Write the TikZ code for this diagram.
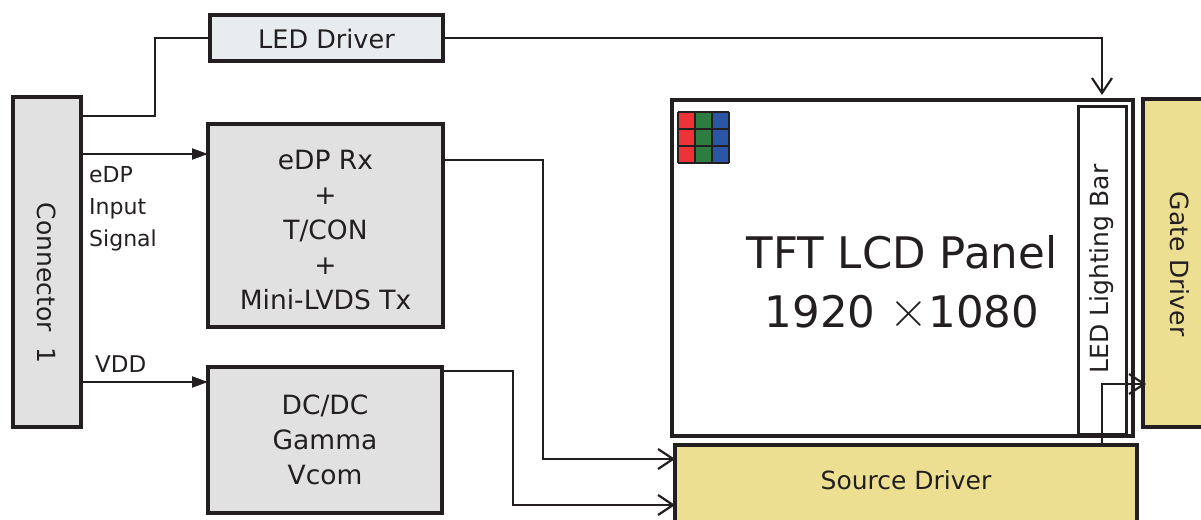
\documentclass[tikz,border=0pt]{standalone}
\usepackage{fontspec}
\setmainfont{DejaVu Sans}
\newfontfamily\lmfont{Latin Modern Roman}
\usetikzlibrary{arrows.meta}
\definecolor{ink}{HTML}{231F20}
\definecolor{boxgray}{HTML}{E1E1E1}
\definecolor{ledgray}{HTML}{E9ECEE}
\definecolor{drvyellow}{HTML}{EDDF91}
\definecolor{pxred}{HTML}{EE3237}
\definecolor{pxgreen}{HTML}{2E7D40}
\definecolor{pxblue}{HTML}{2B55A5}
\tikzset{
  blk/.style={draw=ink, line width=3.2pt, inner sep=0pt, outer sep=0pt},
  txt/.style={text=ink, font=\fontsize{25}{33}\selectfont, inner sep=0pt, align=center},
  bigtxt/.style={text=ink, font=\fontsize{43.5}{50}\selectfont, inner sep=0pt, anchor=base},
  wire/.style={draw=ink, line width=2pt},
  fillarrow/.style={wire, -{Triangle[length=16pt,width=11pt]}},
  openarrow/.style={wire, -{Straight Barb[length=15pt,width=20pt,line width=2.2pt]}},
}
\begin{document}
\begin{tikzpicture}[x=1pt,y=-1pt]
\useasboundingbox (0,0) rectangle (1201,519);
% boxes
\node[blk, fill=ledgray, minimum width=233pt, minimum height=46pt] (led) at (326.5,38) {};
\node[txt, font=\fontsize{25.5}{30}\selectfont] (ledt) at (326.5,39) {LED Driver};
\node[blk, fill=boxgray, minimum width=68pt, minimum height=330pt] (conn) at (47,262) {};
\node[txt, rotate=-90] (connt) at (47,283) {Connector\ \ 1};
\node[blk, fill=boxgray, minimum width=235pt, minimum height=203pt] (edp) at (325.5,225.5) {};
\node[txt, font=\fontsize{26.5}{35}\selectfont] (edpt) at (325.5,230) {eDP Rx\\+\\T/CON\\+\\Mini-LVDS Tx};
\node[blk, fill=boxgray, minimum width=234pt, minimum height=146pt] (dcdc) at (325,440) {};
\node[txt, font=\fontsize{26.5}{35}\selectfont] (dcdct) at (325,440) {DC/DC\\Gamma\\Vcom};
% labels
\node[txt, align=left, anchor=north west, font=\fontsize{22}{32}\selectfont] (edpl) at (89,166) {eDP\\Input\\Signal};
\node[txt, anchor=south west, font=\fontsize{23}{32}\selectfont] (vddl) at (95,373) {VDD};
% panel
\node[blk, fill=white, minimum width=461pt, minimum height=336pt] (panel) at (902.5,268) {};
\node[blk, fill=white, line width=3pt, minimum width=48pt, minimum height=328pt] (bar) at (1102,270) {};
\node[txt, rotate=90, font=\fontsize{25}{28}\selectfont] (bart) at (1102,269) {LED Lighting Bar};
\node[bigtxt] (panelt) at (902,268) {TFT LCD Panel};
\node[bigtxt] (sizet) at (902,327) {1920 {\lmfont\fontsize{54}{54}\selectfont ×}1080};
% pixel grid
\foreach \c/\col in {0/pxred,1/pxgreen,2/pxblue}{
  \foreach \r in {0,1,2}{
    \fill[\col] (678+17*\c,112+17*\r) rectangle ++(17,17);
  }
}
\foreach \k in {0,1,2,3}{
  \draw[ink, line width=2pt] (678+17*\k,112) -- (678+17*\k,163);
  \draw[ink, line width=2pt] (678,112+17*\k) -- (729,112+17*\k);
}
% drivers
\node[blk, fill=drvyellow, minimum width=80pt, minimum height=328pt] (gate) at (1183,263) {};
\node[txt, rotate=-90, font=\fontsize{25}{30}\selectfont] (gatet) at (1180,264) {Gate Driver};
\node[blk, fill=drvyellow, minimum width=462pt, minimum height=100pt] (source) at (906,495) {};
\node[txt, font=\fontsize{25}{30}\selectfont] (sourcet) at (906,480) {Source Driver};
% connectors
\draw[wire] (conn.east |- {(0,116)}) -- (155,116) |- (led.west);
\draw[fillarrow] (conn.east |- {(0,154)}) -- (edp.west |- {(0,154)});
\draw[fillarrow] (conn.east |- {(0,382)}) -- (dcdc.west |- {(0,382)});
\draw[openarrow] (led.east) -| ([yshift=5pt]panel.north -| bar.north);
\draw[openarrow] (edp.east |- {(0,160)}) -- (543,160) |- (source.west |- {(0,459)});
\draw[openarrow] (dcdc.east |- {(0,371)}) -- (513,371) |- (source.west |- {(0,505)});
\draw[openarrow] (source.north -| bar.north) |- ([xshift=3pt]gate.west |- {(0,384)});
\end{tikzpicture}
\end{document}
